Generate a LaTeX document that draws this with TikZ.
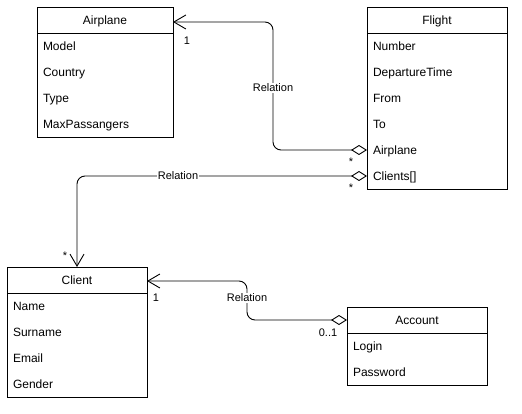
\documentclass[tikz,border=0pt]{standalone}
\usepackage{fontspec}
\setmainfont{Liberation Sans}
\usetikzlibrary{arrows.meta}
\begin{document}
\begin{tikzpicture}[x=1pt,y=-1pt,
  hdr/.style={draw, line width=0.9pt, minimum width=#1, minimum height=26pt, inner sep=0pt, outer sep=0pt, anchor=north west, font=\fontsize{12}{14}\selectfont, text height=8.6pt, text depth=0.4pt},
  frame/.style={draw, line width=0.9pt, minimum width=#1, inner sep=0pt, outer sep=0pt, anchor=north west},
  row/.style={anchor=north west, minimum height=26pt, inner xsep=6pt, inner ysep=0pt, outer sep=0pt, text width=#1, align=left, font=\fontsize{12}{14}\selectfont, text height=8.6pt, text depth=0.4pt},
  rel/.style={line width=0.9pt, rounded corners=8pt, arrows={Straight Barb[length=12pt,width=14pt]-Diamond[length=16pt,width=10pt,fill=white]}},
  lbl/.style={font=\fontsize{11}{13}\selectfont, fill=white, inner sep=1pt},
  mult/.style={font=\fontsize{11}{13}\selectfont, inner sep=0pt}
]
\useasboundingbox (0,0) rectangle (522,414);
% Airplane
\node[hdr=136pt] (airHead) at (37,7) {Airplane};
\node[frame=136pt, minimum height=104pt] (airBody) at (37,33) {};
\node[row=124pt] (air1) at (37,33) {Model};
\node[row=124pt] (air2) at (37,59) {Country};
\node[row=124pt] (air3) at (37,85) {Type};
\node[row=124pt] (air4) at (37,111) {MaxPassangers};
% Flight
\node[hdr=140pt] (flHead) at (367,7) {Flight};
\node[frame=140pt, minimum height=156pt] (flBody) at (367,33) {};
\node[row=128pt] (fl1) at (367,33) {Number};
\node[row=128pt] (fl2) at (367,59) {DepartureTime};
\node[row=128pt] (fl3) at (367,85) {From};
\node[row=128pt] (fl4) at (367,111) {To};
\node[row=128pt] (flAirplane) at (367,137) {Airplane};
\node[row=128pt] (flClients) at (367,163) {Clients[]};
% Client
\node[hdr=140pt] (clHead) at (7,267) {Client};
\node[frame=140pt, minimum height=104pt] (clBody) at (7,293) {};
\node[row=128pt] (cl1) at (7,293) {Name};
\node[row=128pt] (cl2) at (7,319) {Surname};
\node[row=128pt] (cl3) at (7,345) {Email};
\node[row=128pt] (cl4) at (7,371) {Gender};
% Account
\node[hdr=140pt] (acHead) at (347,307) {Account};
\node[frame=140pt, minimum height=52pt] (acBody) at (347,333) {};
\node[row=128pt] (ac1) at (347,333) {Login};
\node[row=128pt] (ac2) at (347,359) {Password};
% connectors
\coordinate (k1) at (273,22);
\coordinate (k2) at (77,176);
\coordinate (k3) at (247,281);
\draw[rel] (airHead.east |- k1) -- (k1) |- (flAirplane.west);
\draw[rel] (clHead.north -| k2) -- (k2) -- (flClients.west);
\draw[rel] (clHead.east |- k3) -- (k3) |- (acHead.west);
% labels
\node[lbl] (r1) at (273,88) {Relation};
\node[lbl] (r2) at (178,176) {Relation};
\node[lbl] (r3) at (247,298) {Relation};
\node[mult] (m1) at (187,41) {1};
\node[mult] (m2) at (351,162) {*};
\node[mult] (m3) at (351,188) {*};
\node[mult] (m4) at (65,256) {*};
\node[mult] (m5) at (156,298) {1};
\node[mult] (m6) at (328,333) {0..1};
\end{tikzpicture}
\end{document}
